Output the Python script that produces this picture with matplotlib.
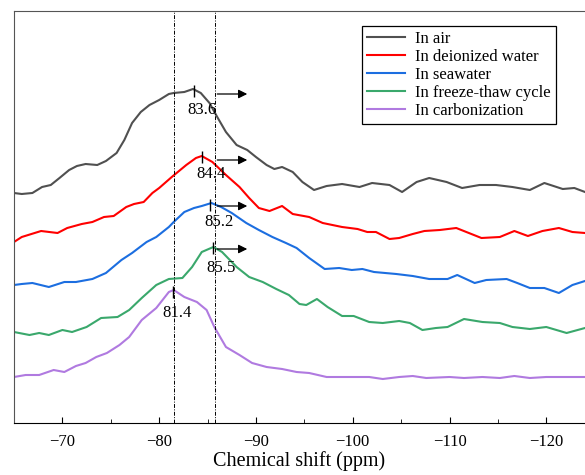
import matplotlib
matplotlib.use("Agg")
import matplotlib.pyplot as plt

plt.rcParams['font.family'] = ['Liberation Serif', 'DejaVu Serif']

# chemical shift (ppm) and stacked intensity (a.u.)
air_x = [-65.0, -65.8, -66.9, -67.9, -68.8, -69.7, -70.7, -71.5, -72.4, -73.6, -74.5, -75.6,
         -76.4, -77.2, -78.1, -79.0, -80.0, -81.0, -81.5, -82.6, -83.5, -84.3, -85.2, -86.0,
         -86.9, -88.0, -89.1, -90.0, -91.1, -91.9, -92.7, -93.8, -94.8, -96.0, -97.3, -98.9,
         -100.7, -102.0, -103.8, -105.1, -106.6, -107.9, -109.7, -111.3, -113.1, -114.8,
         -116.5, -118.3, -119.8, -121.7, -122.9, -124.0]
air_y = [230, 229, 230, 236, 238, 245, 253, 257, 259, 258, 262, 270,
         283, 300, 311, 318, 323, 329, 330, 331, 334, 330, 320, 306,
         291, 278, 273, 266, 258, 254, 256, 251, 241, 233, 237, 239,
         236, 240, 238, 231, 241, 245, 241, 235, 238, 238,
         236, 233, 240, 234, 235, 231]

water_x = [-65.0, -65.8, -67.8, -69.5, -70.5, -72.0, -73.1, -74.3, -75.3, -76.6, -77.4, -78.4,
           -79.3, -80.0, -81.3, -82.8, -83.8, -84.4, -85.5, -86.9, -88.3, -89.3, -90.3, -91.4,
           -92.7, -93.8, -95.5, -96.9, -98.9, -100.5, -101.5, -102.4, -103.8, -104.8, -106.2,
           -107.4, -109.0, -110.7, -112.0, -113.3, -115.2, -116.7, -118.1, -119.6, -121.3,
           -122.7, -124.0]
water_y = [181, 186, 192, 190, 195, 199, 201, 206, 207, 216, 219, 221,
           230, 235, 246, 258, 265, 267, 261, 248, 236, 225, 215, 212,
           217, 209, 206, 200, 196, 194, 191, 191, 184, 185, 189,
           192, 193, 195, 190, 185, 186, 192, 187, 192, 195,
           191, 190]

sea_x = [-65.0, -65.8, -66.9, -68.6, -70.2, -71.4, -73.1, -74.5, -76.1, -77.2, -78.7, -79.7,
         -81.0, -81.5, -82.6, -83.6, -84.4, -85.4, -86.4, -87.5, -89.0, -90.3, -91.7, -93.1,
         -94.2, -95.5, -97.1, -98.6, -99.9, -101.0, -102.2, -104.5, -106.2, -107.9, -109.8,
         -110.8, -112.6, -113.8, -115.9, -117.0, -118.3, -119.8, -121.3, -122.7, -124.0]
sea_y = [138, 139, 140, 136, 141, 141, 144, 150, 163, 170, 181, 186,
         196, 201, 211, 215, 217, 220, 216, 210, 200, 193, 186, 180,
         175, 165, 154, 155, 153, 154, 151, 149, 147, 144, 144,
         148, 140, 143, 144, 140, 135, 135, 130, 138, 142]

ft_x = [-65.0, -66.6, -67.6, -68.6, -70.0, -71.0, -72.5, -74.0, -75.7, -76.9, -78.2, -79.7,
        -81.0, -82.4, -83.4, -84.4, -85.6, -86.5, -88.0, -89.3, -90.7, -92.1, -93.4, -94.5,
        -95.2, -96.3, -97.4, -98.9, -100.1, -101.7, -103.1, -104.8, -105.9, -107.2, -108.6,
        -109.8, -111.5, -113.4, -115.2, -116.5, -118.3, -120.0, -122.1, -124.0]
ft_y = [91, 88, 90, 88, 93, 91, 96, 105, 106, 113, 125, 138,
        144, 145, 156, 171, 176, 171, 156, 146, 141, 134, 128, 119,
        118, 124, 116, 107, 107, 101, 100, 102, 100, 93, 95,
        96, 104, 101, 100, 96, 94, 96, 90, 95]

carb_x = [-65.0, -66.2, -67.6, -69.1, -70.2, -71.4, -72.4, -73.5, -74.6, -75.9, -76.9, -78.2,
          -79.7, -81.0, -81.5, -82.6, -83.9, -84.9, -85.7, -86.9, -88.3, -89.6, -91.1, -92.7,
          -94.2, -95.5, -97.3, -99.9, -101.7, -103.1, -104.8, -106.2, -107.6, -110.0, -111.5,
          -113.4, -115.2, -116.7, -118.3, -120.0, -122.1, -124.0]
carb_y = [46, 48, 48, 53, 51, 57, 60, 66, 70, 78, 86, 103,
          115, 131, 133, 126, 121, 113, 96, 76, 68, 60, 56, 54,
          51, 50, 46, 46, 46, 44, 46, 47, 45, 46, 45,
          46, 45, 47, 45, 46, 46, 46]

labels = ["In air", "In deionized water", "In seawater", "In freeze-thaw cycle", "In carbonization"]
colors = ["#505050", "#ff0000", "#1c6ee0", "#3aa86c", "#b07ae0"]

# peak positions (ppm) and peak heights
peak_x = [-83.6, -84.4, -85.3, -85.6, -81.4]
peak_y = [333, 267, 219, 176, 132]
peak_txt = ["83.6", "84.4", "85.2", "85.5", "81.4"]
ref_lines = [-81.55, -85.75]

fig = plt.figure(figsize=(5.85, 4.75), dpi=100)
ax = fig.add_axes([14 / 585, 1 - 423 / 475, 1 - 14 / 585, 412 / 475])

xs = [air_x, water_x, sea_x, ft_x, carb_x]
ys = [air_y, water_y, sea_y, ft_y, carb_y]
for x, y, c, lab in zip(xs, ys, colors, labels):
    ax.plot(x, y, color=c, lw=1.5, label=lab, solid_joinstyle='round')

for v in ref_lines:
    ax.axvline(v, color='black', lw=0.7, ls=(0, (4, 1.5, 1, 1.5)))

# peak markers, values and shift arrows
lab_dx = [-0.8, -1.0, -0.9, -0.8, -0.5]
lab_dy = [-20, -18, -18, -21, -22]
for i in range(5):
    ax.vlines(peak_x[i], peak_y[i] - 7, peak_y[i] + 5, color='black', lw=1.0)
    ax.text(peak_x[i] + lab_dx[i], peak_y[i] + lab_dy[i], peak_txt[i], fontsize=12,
            ha='center', va='center')
    if i < 4:
        ay = peak_y[i] - 4 if i < 2 else peak_y[i] - 2
        ax.annotate("", xy=(-89.1, ay), xytext=(-86.0, ay),
                    arrowprops=dict(arrowstyle='-|>', color='black', lw=0.9,
                                    mutation_scale=13, shrinkA=0, shrinkB=0))

ax.set_xlim(-65, -124)
ax.set_ylim(0, 412)
ax.set_yticks([])
ax.set_xticks([-70, -80, -90, -100, -110, -120])
ax.set_xticks([-75, -85, -95, -105, -115], minor=True)
ax.tick_params(axis='x', which='both', direction='in', labelsize=12, colors='black')
ax.tick_params(axis='x', which='major', length=4, pad=8)
ax.tick_params(axis='x', which='minor', length=3)
ax.spines['right'].set_visible(False)
for s in ['left', 'top']:
    ax.spines[s].set_color('#555555')
ax.set_xlabel("Chemical shift (ppm)", fontsize=14.5, labelpad=1)

leg = ax.legend(loc='upper left', bbox_to_anchor=(0.609, 0.964), borderaxespad=0,
                fontsize=12, frameon=True, fancybox=False, edgecolor='black',
                framealpha=1, handlelength=2.3, handletextpad=0.6, labelspacing=0.12,
                borderpad=0.3)
leg.get_frame().set_linewidth(0.9)

fig.savefig("out.png", dpi=100)
